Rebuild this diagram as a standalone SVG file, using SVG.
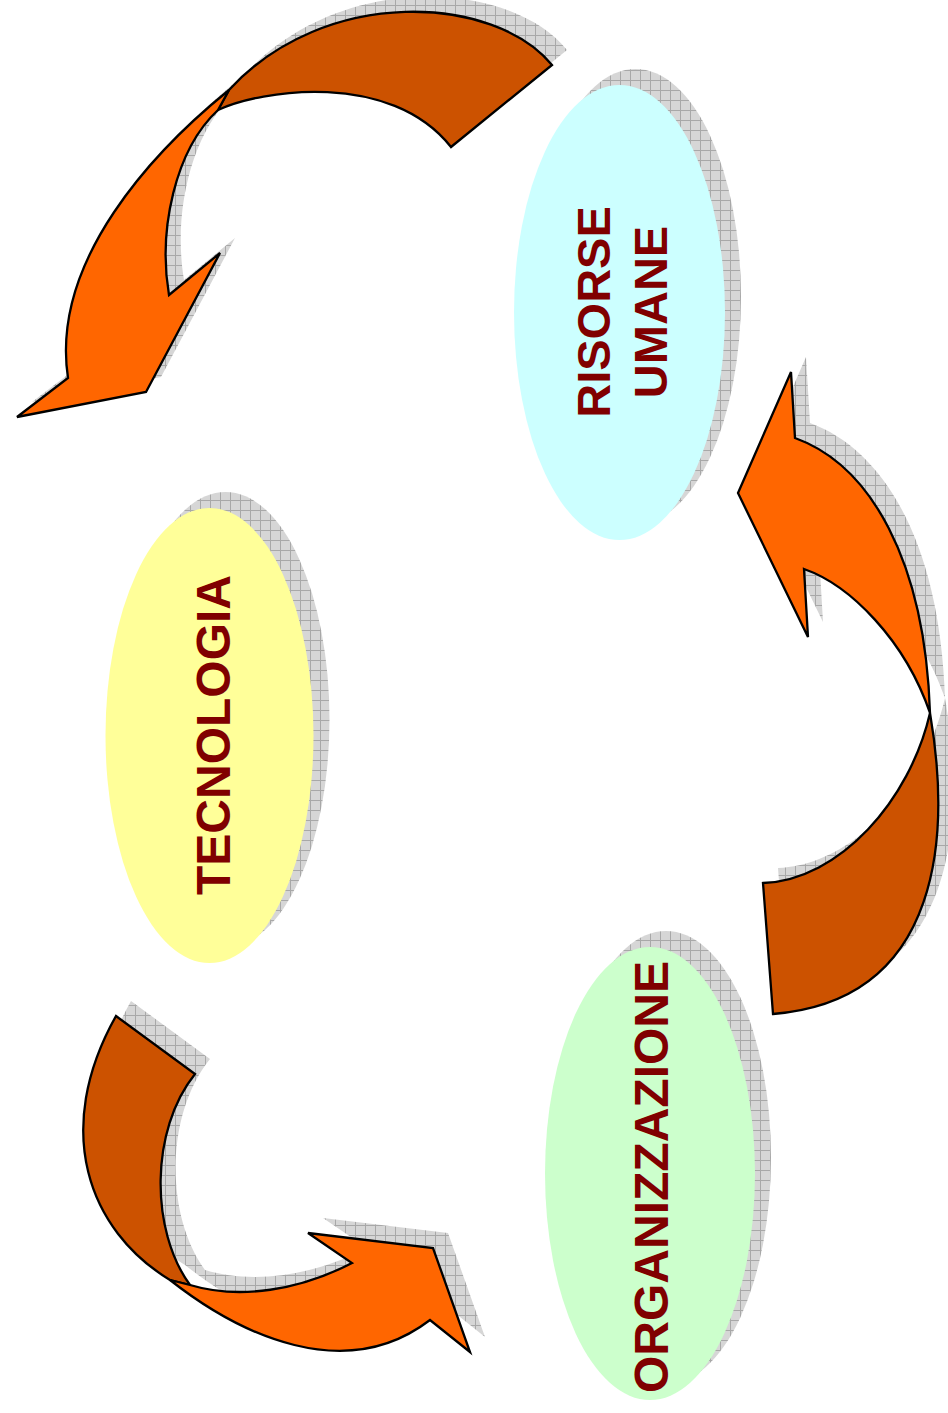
<svg xmlns="http://www.w3.org/2000/svg" width="948" height="1413" viewBox="0 0 948 1413">
<defs>
<pattern id="grid" width="10" height="10" patternUnits="userSpaceOnUse">
<rect width="10" height="10" fill="#d6d6d6"/>
<path d="M0 0.5H10M0.5 0V10" stroke="#a8a8a8" stroke-width="1" fill="none"/>
</pattern>
<style>
.shadow{fill:url(#grid);stroke:none}
.front{fill:#FF6600;stroke:#000;stroke-width:2.3;stroke-linejoin:miter}
.back{fill:#CC5200;stroke:#000;stroke-width:2.3;stroke-linejoin:miter}
.lbl{font-family:"Liberation Sans",Arial,sans-serif;font-weight:bold;font-size:48px;fill:#800000;text-anchor:middle}
</style>
</defs>
<rect width="948" height="1413" fill="#fff"/>

<g id="shadows">
<ellipse class="shadow" cx="635.5" cy="296.5" rx="105.5" ry="227.5"/>
<ellipse class="shadow" cx="225.5" cy="719.5" rx="104" ry="227.5"/>
<ellipse class="shadow" cx="666" cy="1157.5" rx="105" ry="226.5"/>
<g transform="translate(15,-15)">
<path class="shadow" d="M552,65 C495,-5 325,-15 229,90 C155,150 50,260 68,378 L17,417 L146,392 L220,253 L169,295 C158,230 175,150 218,110 C260,90 390,70 451,147 Z"/>
<path class="shadow" d="M795,438 C870,465 925,560 930,713 C950,830 945,1000 773,1014 L763,883 C840,880 910,800 930,713 C905,640 850,585 804,569 L808,637 L738,493 L791,372 Z"/>
<path class="shadow" d="M116,1016 L195,1074 C150,1130 150,1230 190,1285 C240,1300 300,1290 352,1263 L308,1233 L433,1248 L470,1352 L430,1320 C345,1385 240,1335 170,1280 C88,1230 52,1130 116,1016 Z"/>
</g>
</g>

<g id="risorse-umane">
<ellipse cx="619.5" cy="312.5" rx="105.5" ry="227.5" fill="#CCFFFF"/>
<text class="lbl" style="font-size:47px" transform="translate(610,312) rotate(-90)">RISORSE</text>
<text class="lbl" style="font-size:47px" transform="translate(667,312) rotate(-90)">UMANE</text>
</g>

<g id="tecnologia">
<ellipse cx="209.5" cy="735.5" rx="104" ry="227.5" fill="#FFFF99"/>
<text class="lbl" transform="translate(230,735) rotate(-90)">TECNOLOGIA</text>
</g>

<g id="organizzazione">
<ellipse cx="650" cy="1173.5" rx="105" ry="226.5" fill="#CCFFCC"/>
<text class="lbl" transform="translate(668,1177) rotate(-90)">ORGANIZZAZIONE</text>
</g>

<g id="connectors">
<g id="arrow-top">
<path class="back" d="M552,65 C495,-5 325,-15 229,90 L218,110 C260,90 390,70 451,147 Z"/>
<path class="front" d="M229,90 C155,150 50,260 68,378 L17,417 L146,392 L220,253 L169,295 C158,230 175,150 218,110 Z"/>
</g>
<g id="arrow-right">
<path class="front" d="M795,438 C870,465 925,560 930,713 C905,640 850,585 804,569 L808,637 L738,493 L791,372 Z"/>
<path class="back" d="M930,713 C950,830 945,1000 773,1014 L763,883 C840,880 910,800 930,713 Z"/>
</g>
<g id="arrow-bottom">
<path class="back" d="M116,1016 L195,1074 C150,1130 150,1230 190,1285 L170,1280 C88,1230 52,1130 116,1016 Z"/>
<path class="front" d="M170,1280 C240,1335 345,1385 430,1320 L470,1352 L433,1248 L308,1233 L352,1263 C300,1290 240,1300 190,1285 Z"/>
</g>
</g>
</svg>
